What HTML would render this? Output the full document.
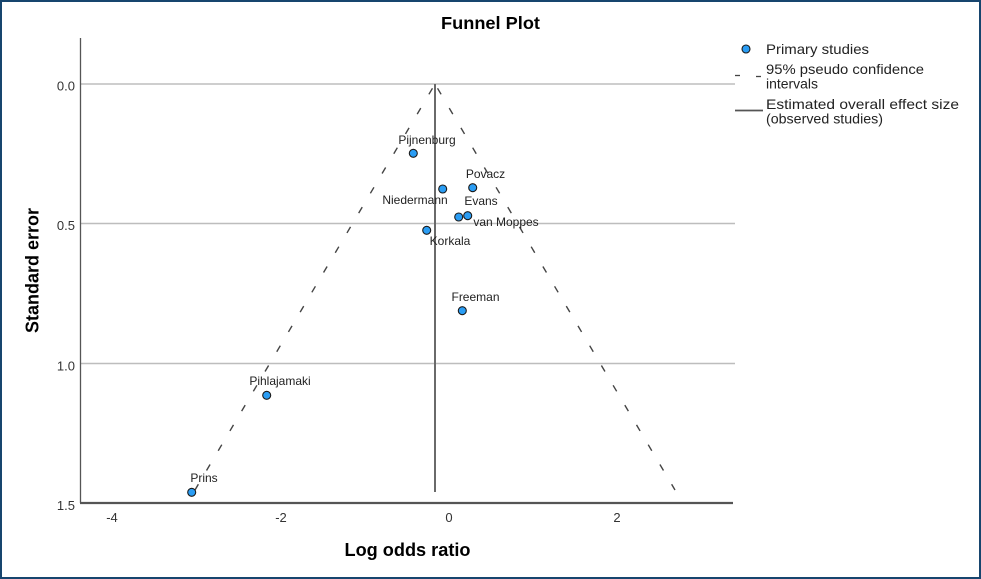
<!DOCTYPE html>
<html>
<head>
<meta charset="utf-8">
<style>
  html, body { margin: 0; padding: 0; background: #ffffff; }
  body { width: 981px; height: 579px; overflow: hidden; }
  svg { display: block; }
  text { font-family: "Liberation Sans", Arial, sans-serif; }
</style>
</head>
<body>
<svg width="981" height="579" viewBox="0 0 981 579" xmlns="http://www.w3.org/2000/svg">
  <!-- background & frame -->
  <rect x="0" y="0" width="981" height="579" fill="#ffffff"/>
  <rect x="1" y="1" width="979" height="577" fill="none" stroke="#17456e" stroke-width="2"/>

  <!-- title -->
  <text x="490.5" y="29" font-size="17.5" font-weight="bold" text-anchor="middle" fill="#000" textLength="99" lengthAdjust="spacingAndGlyphs">Funnel Plot</text>

  <!-- gridlines -->
  <g stroke="#bdbdbd" stroke-width="1.5">
    <line x1="80" y1="84" x2="735" y2="84"/>
    <line x1="80" y1="223.5" x2="735" y2="223.5"/>
    <line x1="80" y1="363.5" x2="735" y2="363.5"/>
  </g>

  <!-- axes -->
  <line x1="80.5" y1="38" x2="80.5" y2="503" stroke="#555" stroke-width="1.3"/>
  <line x1="80" y1="503" x2="733" y2="503" stroke="#555" stroke-width="2.2"/>

  <!-- y tick labels -->
  <g font-size="13" fill="#333" text-anchor="end">
    <text x="75" y="90.5">0.0</text>
    <text x="75" y="230">0.5</text>
    <text x="75" y="370.5">1.0</text>
    <text x="75" y="510">1.5</text>
  </g>

  <!-- x tick labels -->
  <g font-size="13" fill="#333" text-anchor="middle">
    <text x="112" y="522">-4</text>
    <text x="281" y="522">-2</text>
    <text x="449" y="522">0</text>
    <text x="617" y="522">2</text>
  </g>

  <!-- axis titles -->
  <text x="407.5" y="556" font-size="18" font-weight="bold" text-anchor="middle" fill="#000" textLength="126" lengthAdjust="spacingAndGlyphs">Log odds ratio</text>
  <text transform="translate(38.5,270.5) rotate(-90)" x="0" y="0" font-size="18" font-weight="bold" text-anchor="middle" fill="#000" textLength="125" lengthAdjust="spacingAndGlyphs">Standard error</text>

  <!-- funnel dashed lines -->
  <g stroke="#444" stroke-width="1.4" fill="none" stroke-dasharray="7 16" stroke-dashoffset="-5">
    <line x1="435" y1="84" x2="195" y2="490"/>
    <line x1="435" y1="84" x2="675" y2="490"/>
  </g>

  <!-- estimated effect line -->
  <line x1="435" y1="84" x2="435" y2="492" stroke="#6a6a6a" stroke-width="2"/>

  <!-- points -->
  <g fill="#2a9df4" stroke="#1a1a1a" stroke-width="1.1">
    <circle cx="413.3" cy="153.3" r="4"/>
    <circle cx="442.7" cy="189" r="4"/>
    <circle cx="472.7" cy="187.7" r="4"/>
    <circle cx="458.7" cy="217" r="4"/>
    <circle cx="467.7" cy="215.7" r="4"/>
    <circle cx="426.7" cy="230.3" r="4"/>
    <circle cx="462.3" cy="310.7" r="4"/>
    <circle cx="266.7" cy="395.3" r="4"/>
    <circle cx="191.7" cy="492.3" r="4"/>
  </g>

  <!-- point labels -->
  <g font-size="12" fill="#222" text-anchor="middle">
    <text x="427" y="144">Pijnenburg</text>
    <text x="415" y="204">Niedermann</text>
    <text x="485.5" y="178">Povacz</text>
    <text x="481" y="205">Evans</text>
    <text x="506" y="226">van Moppes</text>
    <text x="450" y="245">Korkala</text>
    <text x="475.5" y="301">Freeman</text>
    <text x="280" y="385">Pihlajamaki</text>
    <text x="204" y="482">Prins</text>
  </g>

  <!-- legend -->
  <circle cx="746" cy="49" r="4" fill="#2a9df4" stroke="#1a1a1a" stroke-width="1.1"/>
  <line x1="735" y1="75.5" x2="740" y2="75.5" stroke="#444" stroke-width="1.3"/>
  <line x1="756" y1="76.5" x2="761" y2="76.5" stroke="#444" stroke-width="1.3"/>
  <line x1="735" y1="110.5" x2="763" y2="110.5" stroke="#555" stroke-width="1.8"/>
  <g font-size="14" fill="#222">
    <text x="766" y="54" textLength="103" lengthAdjust="spacingAndGlyphs">Primary studies</text>
    <text x="766" y="74" textLength="158" lengthAdjust="spacingAndGlyphs">95% pseudo confidence</text>
    <text x="766" y="88.5" textLength="52" lengthAdjust="spacingAndGlyphs">intervals</text>
    <text x="766" y="109" textLength="193" lengthAdjust="spacingAndGlyphs">Estimated overall effect size</text>
    <text x="766" y="123.5" textLength="117" lengthAdjust="spacingAndGlyphs">(observed studies)</text>
  </g>
</svg>
</body>
</html>
